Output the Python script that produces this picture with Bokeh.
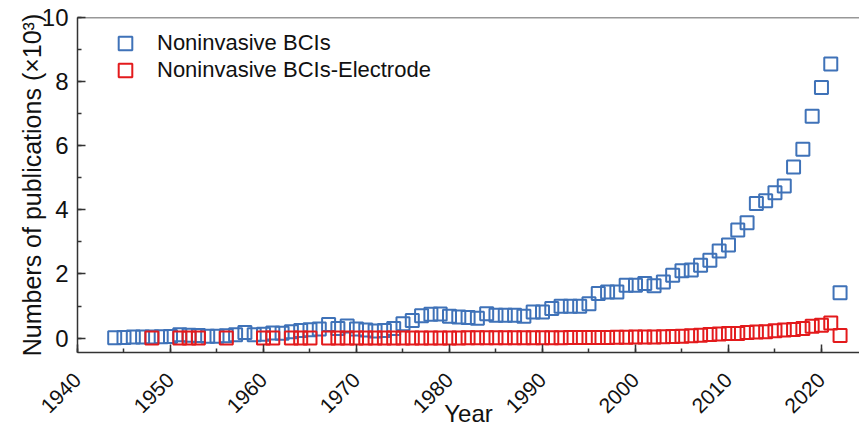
import math
from bokeh.plotting import figure
from bokeh.models import (Range1d, SingleIntervalTicker, Legend, LegendItem,
                          Span, ColumnDataSource)
from bokeh.embed import file_html
from bokeh.resources import INLINE

# ---------------- data (values in thousands of publications) ----------------
years_bci = list(range(1944, 2023))
bci = [
    0.01, 0.02, 0.03, 0.03, 0.03, 0.04,                          # 1944-1949
    0.05, 0.10, 0.09, 0.08, 0.06, 0.06, 0.07, 0.10, 0.17, 0.10,  # 1950s
    0.12, 0.16, 0.15, 0.20, 0.24, 0.26, 0.28, 0.42, 0.30, 0.38,  # 1960s
    0.28, 0.25, 0.22, 0.24, 0.30, 0.45, 0.55, 0.70, 0.74, 0.75,  # 1970s
    0.68, 0.66, 0.64, 0.62, 0.76, 0.71, 0.71, 0.71, 0.68, 0.81,  # 1980s
    0.81, 0.92, 0.99, 0.99, 0.99, 1.07, 1.39, 1.44, 1.44, 1.65,  # 1990s
    1.65, 1.70, 1.63, 1.75, 1.96, 2.10, 2.12, 2.27, 2.43, 2.72,  # 2000s
    2.90, 3.37, 3.60, 4.20, 4.28, 4.53, 4.74, 5.34, 5.89, 6.92,  # 2010s
    7.82, 8.55, 1.41,                                            # 2020-2022
]

years_elec = [1948, 1951, 1952, 1953, 1956, 1960, 1961, 1963, 1964, 1965] + list(range(1967, 2023))
elec = [
    0.005, 0.005, 0.005, 0.005, 0.005, 0.005, 0.005, 0.005, 0.005, 0.005,  # early sparse years
    0.005, 0.005, 0.005,                                                  # 1967-1969
    0.005, 0.005, 0.005, 0.005, 0.005, 0.005, 0.005, 0.005, 0.005, 0.005,  # 1970s
    0.006, 0.006, 0.007, 0.007, 0.008, 0.008, 0.008, 0.009, 0.009, 0.01,   # 1980s
    0.01, 0.01, 0.01, 0.015, 0.015, 0.02, 0.02, 0.02, 0.025, 0.025,        # 1990s
    0.03, 0.03, 0.035, 0.04, 0.05, 0.06, 0.075, 0.09, 0.11, 0.125,         # 2000s
    0.14, 0.145, 0.17, 0.19, 0.20, 0.23, 0.25, 0.27, 0.30, 0.37,           # 2010s
    0.40, 0.47, 0.08,                                                     # 2020-2022
]

series_labels = ["Noninvasive BCIs", "Noninvasive BCIs-Electrode"]
series_colors = ["#3f72b8", "#e31a1c"]
x_title = "Year"
y_title = "Numbers of publications (×10³)"

FONT = "Liberation Sans"
TXT = "#111111"

p = figure(width=859, height=431, output_backend="svg", toolbar_location=None,
           x_range=Range1d(1940, 2024.09), y_range=Range1d(-0.45, 10),
           min_border_left=77, min_border_right=0, min_border_top=17,
           min_border_bottom=79)
p.outline_line_color = None
p.grid.visible = False
p.background_fill_color = "white"
p.border_fill_color = "white"

src_b = ColumnDataSource(dict(x=years_bci, y=bci))
src_e = ColumnDataSource(dict(x=years_elec, y=elec))

r_b = p.scatter("x", "y", source=src_b, marker="square", size=13,
                fill_color=None, line_color=series_colors[0], line_width=2)
r_e = p.scatter("x", "y", source=src_e, marker="square", size=13,
                fill_color=None, line_color=series_colors[1], line_width=2)

# top frame line
p.add_layout(Span(location=10, dimension="width", line_color="#333333", line_width=1.5))

for ax in (p.xaxis[0], p.yaxis[0]):
    ax.axis_line_color = "#333333"
    ax.axis_line_width = 1.5
    ax.major_tick_line_color = "#333333"
    ax.minor_tick_line_color = "#333333"
    ax.major_tick_line_width = 1.5
    ax.minor_tick_line_width = 1.5
    ax.major_tick_in = 8
    ax.major_tick_out = 0
    ax.minor_tick_in = 4
    ax.minor_tick_out = 0
    ax.major_label_text_font = FONT
    ax.major_label_text_color = TXT
    ax.axis_label_text_font = FONT
    ax.axis_label_text_font_style = "normal"
    ax.axis_label_text_color = TXT

p.yaxis.major_label_text_font_size = "24px"
p.yaxis.axis_label_text_font_size = "25px"
p.xaxis.major_label_text_font_size = "21px"
p.xaxis.axis_label_text_font_size = "24px"

p.xaxis.ticker = SingleIntervalTicker(interval=10, num_minor_ticks=2)
p.yaxis.ticker = SingleIntervalTicker(interval=2, num_minor_ticks=2)
p.xaxis.major_label_orientation = math.pi / 4
p.xaxis.axis_label = x_title
p.yaxis.axis_label = y_title
p.yaxis.major_label_standoff = 9
p.yaxis.axis_label_standoff = -7
p.xaxis[0].major_label_standoff = 24
p.xaxis[0].axis_label_standoff = -22

common = dict(orientation="vertical", glyph_width=34, glyph_height=34, padding=0,
              margin=0, label_standoff=15, border_line_color=None,
              background_fill_alpha=0, label_text_font=FONT,
              label_text_font_size="22px", label_text_color=TXT)
leg1 = Legend(items=[LegendItem(label=series_labels[0], renderers=[r_b])],
              location=(31, 292), **common)
leg2 = Legend(items=[LegendItem(label=series_labels[1], renderers=[r_e])],
              location=(31, 265), **common)
p.add_layout(leg1)
p.add_layout(leg2)

open("out.html", "w").write(file_html(p, INLINE))
